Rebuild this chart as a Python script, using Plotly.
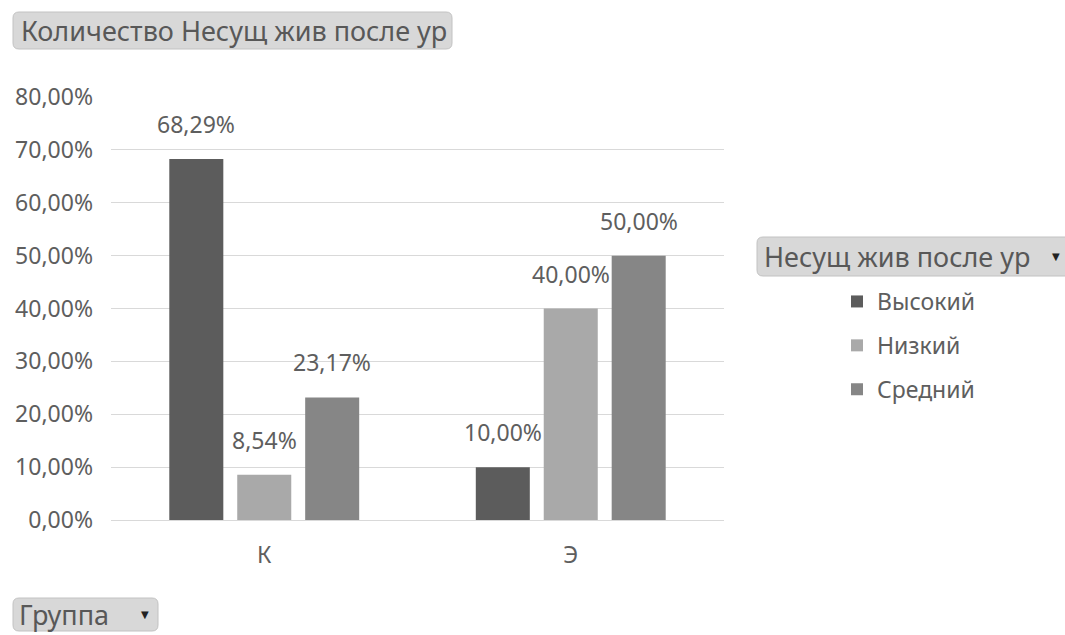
import plotly.graph_objects as go

# Pivot chart: share of "Несущ жив после ур" levels per group
groups = ["К", "Э"]
levels = ["Высокий", "Низкий", "Средний"]
values_pct = {
    "Высокий": [68.29, 10.00],
    "Низкий": [8.54, 40.00],
    "Средний": [23.17, 50.00],
}
level_colors = {"Высокий": "#5c5c5c", "Низкий": "#a9a9a9", "Средний": "#868686"}
y_ticks = [0, 0.1, 0.2, 0.3, 0.4, 0.5, 0.6, 0.7, 0.8]

W, H = 1065, 635
L, R, T, B = 111, 341, 97, 115
PW, PH = W - L - R, H - T - B
BARGAP, GROUPGAP = 0.335, 0.205

FONT = "Noto Sans"
TXT = "#5e5e5e"
FS = 23        # axis, data label and legend text
FS_BTN = 27    # field button captions


def px(x):
    return (x - L) / PW


def py(y):
    return (H - B - y) / PH


def rounded_box(x0, y0, x1, y1, r=6):
    a, b, c, d = px(x0), py(y0), px(x1), py(y1)
    rx, ry = r / PW, r / PH
    return (
        f"M {a + rx},{b} L {c - rx},{b} Q {c},{b} {c},{b - ry} "
        f"L {c},{d + ry} Q {c},{d} {c - rx},{d} L {a + rx},{d} "
        f"Q {a},{d} {a},{d + ry} L {a},{b - ry} Q {a},{b} {a + rx},{b} Z"
    )


fig = go.Figure()
for i, lvl in enumerate(levels):
    fig.add_trace(go.Bar(
        name=lvl, x=groups, y=[v / 100 for v in values_pct[lvl]],
        marker=dict(color=level_colors[lvl], line=dict(width=0)),
        legendgroup=lvl,
    ))

# data labels above each bar
slot = PW / len(groups) * (1 - BARGAP) / len(levels)
annotations = []
for i, lvl in enumerate(levels):
    for g, v in zip(groups, values_pct[lvl]):
        annotations.append(dict(
            x=g, y=v / 100, xref="x", yref="y", showarrow=False,
            text=f"{v:.2f}".replace(".", ",") + "%",
            xshift=(i - 1) * slot, yshift=17, yanchor="bottom",
            font=dict(family=FONT, size=FS, color=TXT),
        ))

# field buttons
shapes = []
buttons = [
    (13, 12, 452, 49, "Количество Несущ жив после ур", 19, False),
    (757, 237, 1075, 276, "Несущ жив после ур", 762, True),
    (13, 598, 158, 631, "Группа", 17, True),
]
for x0, y0, x1, y1, label, tx, arrow in buttons:
    shapes.append(dict(type="path", xref="paper", yref="paper",
                       path=rounded_box(x0, y0, x1, y1),
                       fillcolor="#d8d8d8", line=dict(color="#c2c2c2", width=1),
                       layer="above"))
    annotations.append(dict(
        x=px(tx), y=py((y0 + y1) / 2), xref="paper", yref="paper",
        xanchor="left", yanchor="middle", showarrow=False, text=label,
        font=dict(family=FONT, size=FS_BTN, color="#585858"),
    ))
    if arrow:
        ax = 1056 if x1 > 1065 else x1 - 13
        annotations.append(dict(
            x=px(ax), y=py((y0 + y1) / 2), xref="paper", yref="paper",
            xanchor="center", yanchor="middle", showarrow=False, text="▼",
            font=dict(family="DejaVu Sans", size=10, color="#222222"),
        ))

fig.update_layout(
    width=W, height=H,
    margin=dict(l=L, r=R, t=T, b=B, autoexpand=False),
    paper_bgcolor="white", plot_bgcolor="white",
    barmode="group", bargap=BARGAP, bargroupgap=GROUPGAP,
    separators=", ",
    font=dict(family=FONT, size=FS, color=TXT),
    showlegend=True,
    legend=dict(
        x=px(837), y=py(280), xanchor="left", yanchor="top",
        font=dict(family=FONT, size=FS, color=TXT),
        tracegroupgap=11, itemsizing="constant",
        bgcolor="rgba(0,0,0,0)",
    ),
    xaxis=dict(
        showgrid=False, showline=False, zeroline=False, ticks="",
        tickfont=dict(family=FONT, size=FS, color=TXT), ticklabelstandoff=19,
    ),
    yaxis=dict(
        range=[0, 0.8], tickvals=y_ticks, tickformat=".2%",
        showgrid=True, gridcolor="#d9d9d9", gridwidth=1,
        zeroline=True, zerolinecolor="#d9d9d9", zerolinewidth=1,
        showline=False, ticks="", ticklabelstandoff=17,
        tickfont=dict(family=FONT, size=FS, color=TXT),
    ),
    annotations=annotations, shapes=shapes,
)

fig.write_html("out.html")
